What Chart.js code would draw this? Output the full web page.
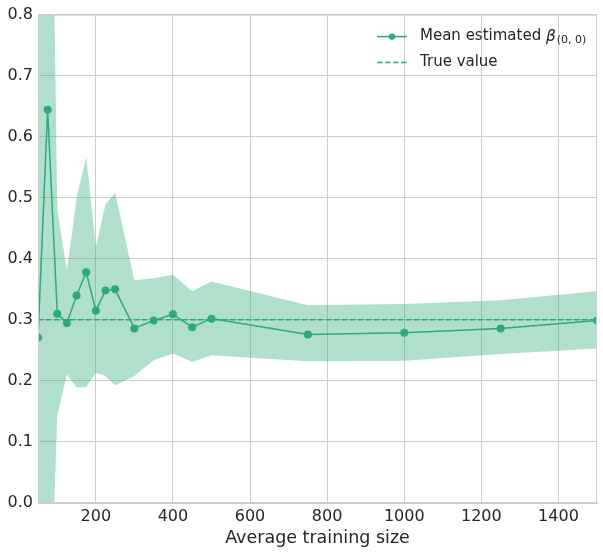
<!DOCTYPE html>
<html>
<head>
<meta charset="utf-8">
<script src="https://cdn.jsdelivr.net/npm/chart.js@4.4.1/dist/chart.umd.min.js"></script>
<style>
  html, body { margin: 0; padding: 0; background: #fff; }
  #wrap { width: 603px; height: 554px; position: relative; }
</style>
</head>
<body>
<div id="wrap"><canvas id="chart"></canvas></div>
<script>
// training sizes and estimates
const sizes = [50, 75, 100, 125, 150, 175, 200, 225, 250, 300, 350, 400, 450, 500, 750, 1000, 1250, 1500];
const meanBeta = [0.271, 0.644, 0.310, 0.295, 0.340, 0.378, 0.315, 0.348, 0.350, 0.286, 0.299, 0.309, 0.288, 0.302, 0.276, 0.279, 0.286, 0.299];
const upperBand = [1.00, 1.60, 0.481, 0.381, 0.499, 0.567, 0.419, 0.489, 0.508, 0.365, 0.368, 0.374, 0.347, 0.363, 0.324, 0.326, 0.332, 0.347];
const lowerBand = [-0.45, -0.33, 0.143, 0.211, 0.189, 0.190, 0.213, 0.208, 0.193, 0.208, 0.234, 0.245, 0.231, 0.242, 0.232, 0.233, 0.244, 0.253];
const trueValue = 0.3;
const xTicks = [200, 400, 600, 800, 1000, 1200, 1400];

const green = '#2eaa78';
const bandFill = 'rgba(46, 170, 120, 0.375)';
const textColor = '#262626';
const gridColor = '#cccccc';
const fontFamily = '"DejaVu Sans", sans-serif';

const pts = (ys) => sizes.map((x, i) => ({ x: x, y: ys[i] }));

// frame around the plot area (top and right spines)
const framePlugin = {
    id: 'frame',
    afterDatasetsDraw(chart) {
        const { ctx, chartArea: a } = chart;
        ctx.save();
        ctx.strokeStyle = gridColor;
        ctx.lineWidth = 1;
        ctx.strokeRect(a.left + 0.5, a.top + 0.5, a.right - a.left - 1, a.bottom - a.top - 1);
        ctx.restore();
    }
};

// legend with the math label (italic beta, subscript)
const legendPlugin = {
    id: 'mathLegend',
    afterDraw(chart) {
        const { ctx, chartArea: a } = chart;
        const x0 = a.right - 220;
        const y1 = a.top + 22;
        const y2 = a.top + 48;
        ctx.save();
        ctx.strokeStyle = green;
        ctx.fillStyle = green;
        ctx.lineWidth = 1.5;
        ctx.beginPath();
        ctx.moveTo(x0, y1);
        ctx.lineTo(x0 + 30, y1);
        ctx.stroke();
        ctx.beginPath();
        ctx.arc(x0 + 15, y1, 3.2, 0, Math.PI * 2);
        ctx.fill();
        ctx.setLineDash([5.5, 2.5]);
        ctx.beginPath();
        ctx.moveTo(x0, y2);
        ctx.lineTo(x0 + 30, y2);
        ctx.stroke();
        ctx.setLineDash([]);

        ctx.fillStyle = textColor;
        ctx.textBaseline = 'middle';
        ctx.textAlign = 'left';
        let tx = x0 + 43;
        ctx.font = '15px ' + fontFamily;
        const part1 = 'Mean estimated ';
        ctx.fillText(part1, tx, y1);
        tx += ctx.measureText(part1).width;
        ctx.font = 'italic 15.5px ' + fontFamily;
        ctx.fillText('β', tx, y1);
        tx += ctx.measureText('β').width + 1;
        ctx.font = '11px ' + fontFamily;
        ctx.fillText('(0, 0)', tx, y1 + 4);
        ctx.font = '15px ' + fontFamily;
        ctx.fillText('True value', x0 + 43, y2);
        ctx.restore();
    }
};

new Chart(document.getElementById('chart'), {
    type: 'line',
    data: {
        datasets: [
            {
                label: 'upper',
                data: pts(upperBand),
                borderWidth: 0,
                pointRadius: 0,
                fill: false,
                backgroundColor: bandFill,
                tension: 0
            },
            {
                label: 'lower',
                data: pts(lowerBand),
                borderWidth: 0,
                pointRadius: 0,
                fill: '-1',
                backgroundColor: bandFill,
                tension: 0
            },
            {
                label: 'True value',
                data: [{ x: sizes[0], y: trueValue }, { x: sizes[sizes.length - 1], y: trueValue }],
                borderColor: green,
                borderWidth: 1.5,
                borderDash: [5.5, 2.5],
                pointRadius: 0,
                fill: false
            },
            {
                label: 'Mean estimated β(0,0)',
                data: pts(meanBeta),
                borderColor: green,
                backgroundColor: green,
                borderWidth: 1.5,
                pointRadius: 4,
                pointBorderWidth: 0,
                fill: false,
                tension: 0
            }
        ]
    },
    options: {
        responsive: true,
        maintainAspectRatio: false,
        animation: false,
        layout: { padding: { left: 0, right: 6, top: 14, bottom: 0 } },
        plugins: {
            legend: { display: false },
            tooltip: { enabled: false }
        },
        scales: {
            x: {
                type: 'linear',
                min: 50,
                max: 1500,
                afterBuildTicks: (scale) => {
                    scale.ticks = xTicks.map(v => ({ value: v }));
                },
                afterFit: (scale) => { scale.height = 51; },
                grid: { color: gridColor, drawTicks: false },
                border: { color: gridColor },
                ticks: {
                    color: textColor,
                    padding: 4,
                    font: { family: fontFamily, size: 16 },
                    callback: (v) => String(v)
                },
                title: {
                    display: true,
                    text: 'Average training size',
                    color: textColor,
                    padding: { top: 0, bottom: 5 },
                    font: { family: fontFamily, size: 17.5 }
                }
            },
            y: {
                min: 0,
                max: 0.8,
                afterFit: (scale) => { scale.width = 38; },
                grid: { color: gridColor, drawTicks: false },
                border: { color: gridColor },
                ticks: {
                    stepSize: 0.1,
                    color: textColor,
                    padding: 5,
                    font: { family: fontFamily, size: 16 },
                    callback: (v) => v.toFixed(1)
                }
            }
        }
    },
    plugins: [framePlugin, legendPlugin]
});
</script>
</body>
</html>
